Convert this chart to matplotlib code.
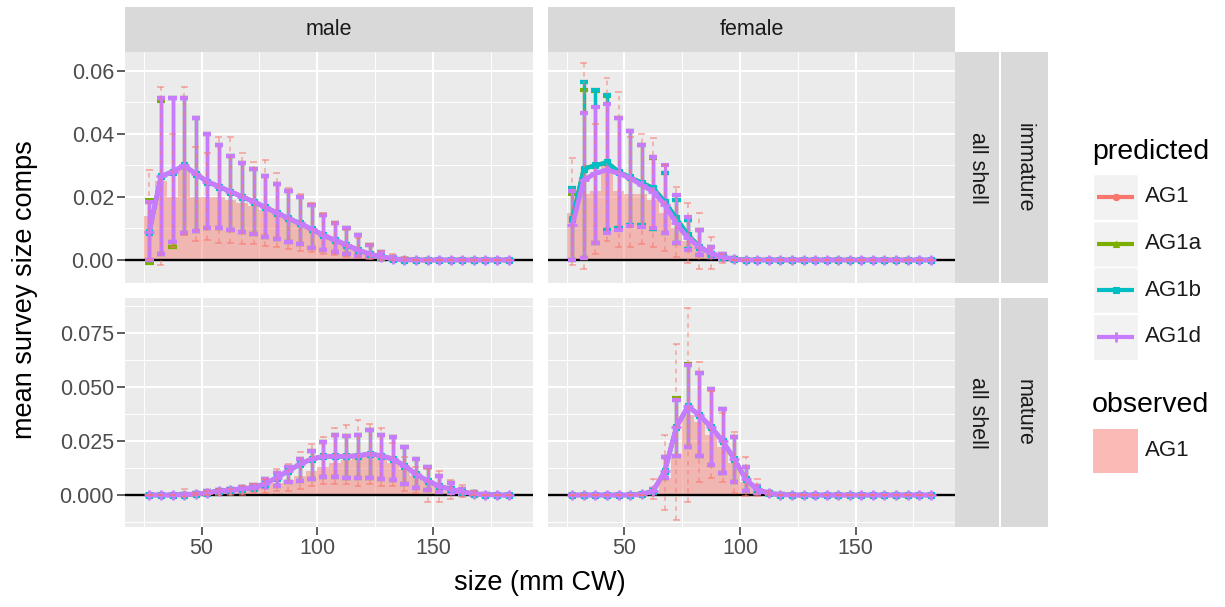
import numpy as np
import matplotlib
matplotlib.use('Agg')
import matplotlib.pyplot as plt
from matplotlib.patches import Rectangle

plt.rcParams['font.family'] = ['Liberation Sans', 'DejaVu Sans']

# size bins (mm CW)
sizes = [27.5, 32.5, 37.5, 42.5, 47.5, 52.5, 57.5, 62.5,
         67.5, 72.5, 77.5, 82.5, 87.5, 92.5, 97.5, 102.5,
         107.5, 112.5, 117.5, 122.5, 127.5, 132.5, 137.5, 142.5,
         147.5, 152.5, 157.5, 162.5, 167.5, 172.5, 177.5, 182.5]

models = ['AG1', 'AG1a', 'AG1b', 'AG1d']
sexes = ['male', 'female']
maturity = ['immature', 'mature']

# ---- male, immature ----
mi_obs = [0.014, 0.025, 0.020, 0.029, 0.020, 0.020, 0.020, 0.019,
          0.018, 0.017, 0.016, 0.015, 0.013, 0.012, 0.010, 0.008,
          0.0065, 0.005, 0.0035, 0.0025, 0.0015, 0.001, 0.0005, 0,
          0, 0, 0, 0, 0, 0, 0, 0]
mi_obs_lo = [0.0, -0.0015, 0.004, 0.008, 0.006, 0.0063, 0.0055, 0.0055,
             0.005, 0.005, 0.0045, 0.004, 0.0035, 0.003, 0.0025, 0.002,
             0.0015, 0.001, 0.0005, 0.0003, 0, 0, 0, 0,
             0, 0, 0, 0, 0, 0, 0, 0]
mi_obs_hi = [0.0286, 0.055, 0.040, 0.0548, 0.036, 0.034, 0.039, 0.039,
             0.034, 0.031, 0.0317, 0.0277, 0.023, 0.021, 0.018, 0.015,
             0.012, 0.0095, 0.007, 0.005, 0.003, 0.002, 0.001, 0,
             0, 0, 0, 0, 0, 0, 0, 0]
mi_d = [0.009, 0.0265, 0.028, 0.030, 0.0273, 0.0249, 0.0233, 0.0217,
        0.0201, 0.0185, 0.0167, 0.015, 0.0132, 0.0116, 0.0098, 0.0079,
        0.0063, 0.0048, 0.0032, 0.0019, 0.001, 0.0004, 0.0001, 0,
        0, 0, 0, 0, 0, 0, 0, 0]
mi_d_lo = [0.0, 0.002, 0.0058, 0.0087, 0.0092, 0.010, 0.010, 0.0095,
           0.009, 0.0081, 0.0074, 0.0067, 0.0056, 0.005, 0.0039, 0.0032,
           0.0024, 0.0019, 0.0013, 0.0008, 0.0004, 0.0001, 0, 0,
           0, 0, 0, 0, 0, 0, 0, 0]
mi_d_hi = [0.0185, 0.0513, 0.0515, 0.0515, 0.045, 0.040, 0.0365, 0.033,
           0.0307, 0.029, 0.0265, 0.024, 0.022, 0.020, 0.0175, 0.0143,
           0.0116, 0.010, 0.0079, 0.0048, 0.0026, 0.001, 0.0003, 0,
           0, 0, 0, 0, 0, 0, 0, 0]
mi_a_lo = [-0.001, 0.002, 0.004, 0.0087, 0.0092, 0.010, 0.010, 0.0095,
           0.009, 0.0081, 0.0074, 0.0067, 0.0056, 0.005, 0.0039, 0.0032,
           0.0024, 0.0019, 0.0013, 0.0008, 0.0004, 0.0001, 0, 0,
           0, 0, 0, 0, 0, 0, 0, 0]
mi_a_hi = [0.019, 0.0505, 0.0515, 0.0515, 0.045, 0.040, 0.0365, 0.033,
           0.0307, 0.029, 0.0265, 0.024, 0.022, 0.020, 0.0175, 0.0143,
           0.0116, 0.010, 0.0079, 0.0048, 0.0026, 0.001, 0.0003, 0,
           0, 0, 0, 0, 0, 0, 0, 0]

# ---- female, immature ----
fi_obs = [0.015, 0.021, 0.022, 0.030, 0.022, 0.021, 0.021, 0.019,
          0.015, 0.010, 0.006, 0.004, 0.002, 0.0005, 0, 0,
          0, 0, 0, 0, 0, 0, 0, 0,
          0, 0, 0, 0, 0, 0, 0, 0]
fi_obs_lo = [-0.0016, -0.003, 0.002, 0.006, 0.004, 0.004, 0.005, 0.004,
             0.003, 0.001, -0.001, -0.003, -0.003, -0.001, 0, 0,
             0, 0, 0, 0, 0, 0, 0, 0,
             0, 0, 0, 0, 0, 0, 0, 0]
fi_obs_hi = [0.0323, 0.0624, 0.043, 0.0577, 0.0534, 0.039, 0.040, 0.0386,
             0.030, 0.0233, 0.018, 0.0148, 0.0074, 0.002, 0, 0,
             0, 0, 0, 0, 0, 0, 0, 0,
             0, 0, 0, 0, 0, 0, 0, 0]
fi_d = [0.011, 0.0254, 0.0275, 0.0286, 0.0275, 0.026, 0.0238, 0.0217,
        0.0175, 0.0116, 0.0069, 0.0042, 0.0021, 0.001, 0.0002, 0,
        0, 0, 0, 0, 0, 0, 0, 0,
        0, 0, 0, 0, 0, 0, 0, 0]
fi_d_lo = [0.0, 0.0005, 0.0055, 0.0085, 0.0095, 0.0108, 0.0106, 0.010,
           0.0085, 0.0053, 0.0032, 0.0016, 0.0008, 0.0002, 0, 0,
           0, 0, 0, 0, 0, 0, 0, 0,
           0, 0, 0, 0, 0, 0, 0, 0]
fi_d_hi = [0.022, 0.0466, 0.0487, 0.0495, 0.0452, 0.041, 0.0365, 0.0328,
           0.030, 0.0206, 0.0138, 0.0095, 0.0042, 0.002, 0.0005, 0,
           0, 0, 0, 0, 0, 0, 0, 0,
           0, 0, 0, 0, 0, 0, 0, 0]
fi_b = [0.013, 0.029, 0.030, 0.031, 0.028, 0.0262, 0.0245, 0.0228,
        0.0185, 0.0132, 0.008, 0.0042, 0.002, 0.001, 0.0002, 0,
        0, 0, 0, 0, 0, 0, 0, 0,
        0, 0, 0, 0, 0, 0, 0, 0]
fi_b_lo = [0.0, 0.0005, 0.0055, 0.0095, 0.010, 0.011, 0.011, 0.0098,
           0.0085, 0.0055, 0.0035, 0.0016, 0.0008, 0.0002, 0, 0,
           0, 0, 0, 0, 0, 0, 0, 0,
           0, 0, 0, 0, 0, 0, 0, 0]
fi_b_hi = [0.0229, 0.0566, 0.054, 0.0524, 0.0452, 0.041, 0.0365, 0.0328,
           0.0275, 0.019, 0.0127, 0.0095, 0.0042, 0.002, 0.0005, 0,
           0, 0, 0, 0, 0, 0, 0, 0,
           0, 0, 0, 0, 0, 0, 0, 0]
fi_a_hi = [0.021, 0.054, 0.0535, 0.052, 0.045, 0.041, 0.0365, 0.0325,
           0.0275, 0.019, 0.0127, 0.0095, 0.0042, 0.002, 0.0005, 0,
           0, 0, 0, 0, 0, 0, 0, 0,
           0, 0, 0, 0, 0, 0, 0, 0]

# ---- male, mature ----
mm_obs = [0, 0, 0, 0, 0, 0.0005, 0.0015, 0.0015,
          0.002, 0.003, 0.004, 0.0055, 0.007, 0.009, 0.011, 0.013,
          0.015, 0.016, 0.017, 0.018, 0.017, 0.015, 0.012, 0.009,
          0.006, 0.004, 0.002, 0.001, 0.0005, 0, 0, 0]
mm_obs_lo = [0, 0, 0, -0.001, 0, 0, 0, 0,
             0, 0.001, 0.001, 0.002, 0.002, 0.003, 0.004, 0.005,
             0.005, 0.005, 0.004, 0.005, 0.004, 0.004, 0.002, 0.001,
             -0.003, -0.003, -0.002, -0.001, 0, 0, 0, 0]
mm_obs_hi = [0, 0, 0, 0.003, 0.001, 0.002, 0.003, 0.003,
             0.004, 0.005, 0.0073, 0.012, 0.0143, 0.0198, 0.0237, 0.027,
             0.031, 0.0326, 0.0346, 0.0327, 0.031, 0.024, 0.0175, 0.013,
             0.012, 0.0112, 0.007, 0.0045, 0.002, 0, 0, 0]
mm_d = [0, 0, 0, 0.0002, 0.0005, 0.001, 0.0019, 0.0023,
        0.003, 0.0034, 0.0053, 0.0081, 0.0112, 0.0143, 0.0167, 0.0179,
        0.0179, 0.0179, 0.0182, 0.019, 0.0182, 0.0167, 0.0136, 0.0097,
        0.0065, 0.0042, 0.0026, 0.0014, 0.0006, 0.0002, 0, 0]
mm_d_lo = [0, 0, 0, 0.0001, 0.0003, 0.0006, 0.001, 0.0015,
           0.002, 0.0028, 0.0035, 0.0042, 0.0058, 0.0065, 0.0076, 0.0084,
           0.0084, 0.0081, 0.008, 0.008, 0.0073, 0.0068, 0.005, 0.0034,
           0.0023, 0.0016, 0.001, 0.0005, 0.0002, 0, 0, 0]
mm_d_hi = [0, 0, 0, 0.0004, 0.001, 0.0017, 0.0025, 0.003,
           0.0038, 0.0045, 0.0073, 0.010, 0.0128, 0.0165, 0.0205, 0.0245,
           0.028, 0.0273, 0.028, 0.030, 0.028, 0.0268, 0.0221, 0.0167,
           0.0128, 0.0089, 0.0055, 0.003, 0.0014, 0.0005, 0, 0]

# ---- female, mature ----
fm_obs = [0, 0, 0, 0, 0, 0, 0, 0.002,
          0.008, 0.019, 0.037, 0.034, 0.028, 0.022, 0.015, 0.006,
          0.002, 0.0005, 0, 0, 0, 0, 0, 0,
          0, 0, 0, 0, 0, 0, 0, 0]
fm_obs_lo = [0, 0, 0, 0, 0, 0, 0, -0.002,
             -0.0067, -0.0114, -0.003, 0.006, 0.008, 0.006, 0.001, -0.0005,
             -0.0005, 0, 0, 0, 0, 0, 0, 0,
             0, 0, 0, 0, 0, 0, 0, 0]
fm_obs_hi = [0, 0, 0, 0, 0, 0, 0, 0.0073,
             0.028, 0.070, 0.0868, 0.0618, 0.048, 0.038, 0.029, 0.0174,
             0.0073, 0.002, 0, 0, 0, 0, 0, 0,
             0, 0, 0, 0, 0, 0, 0, 0]
fm_d = [0, 0, 0, 0, 0, 0, 0.0003, 0.0019,
        0.011, 0.0315, 0.041, 0.037, 0.0315, 0.025, 0.0167, 0.0073,
        0.0026, 0.0008, 0.0002, 0, 0, 0, 0, 0,
        0, 0, 0, 0, 0, 0, 0, 0]
fm_d_lo = [0, 0, 0, 0, 0, 0, 0.0001, 0.001,
           0.0081, 0.0182, 0.0224, 0.0179, 0.0139, 0.0101, 0.0058, 0.0019,
           0.0008, 0.0003, 0, 0, 0, 0, 0, 0,
           0, 0, 0, 0, 0, 0, 0, 0]
fm_d_hi = [0, 0, 0, 0, 0, 0, 0.0005, 0.003,
           0.0174, 0.0439, 0.0603, 0.0564, 0.049, 0.040, 0.0268, 0.0132,
           0.004, 0.0012, 0.0003, 0, 0, 0, 0, 0,
           0, 0, 0, 0, 0, 0, 0, 0]
fm_a_hi = [0, 0, 0, 0, 0, 0, 0.0005, 0.003,
           0.0174, 0.0447, 0.0607, 0.0564, 0.049, 0.040, 0.0268, 0.0132,
           0.004, 0.0012, 0.0003, 0, 0, 0, 0, 0,
           0, 0, 0, 0, 0, 0, 0, 0]

top_ticks = [0.0, 0.02, 0.04, 0.06]
top_labels = ['0.00', '0.02', '0.04', '0.06']
bot_ticks = [0.0, 0.025, 0.05, 0.075]
bot_labels = ['0.000', '0.025', '0.050', '0.075']
x_ticks = [50, 100, 150]

COLORS = {'AG1': '#F8766D', 'AG1a': '#7CAE00', 'AG1b': '#00BFC4', 'AG1d': '#C77CFF'}
MARKERS = {'AG1': 'o', 'AG1a': '^', 'AG1b': 's', 'AG1d': '+'}
MSIZE = {'AG1': 4.5, 'AG1a': 4.5, 'AG1b': 4.2, 'AG1d': 7.5}
OBS = '#F8766D'
TXT = '#1A1A1A'

W, H = 1225, 607
fig = plt.figure(figsize=(W / 100, H / 100), dpi=100)


def box(x0, y0, x1, y1):
    return [x0 / W, 1 - y1 / H, (x1 - x0) / W, (y1 - y0) / H]


x = np.array(sizes)


def draw_panel(ax, obs, obs_lo, obs_hi, preds, ylim, ticks, labels, minors,
               show_x, show_y):
    ax.set_facecolor('#EBEBEB')
    ax.set_xlim(17, 193)
    ax.set_ylim(*ylim)
    ax.set_xticks(x_ticks)
    ax.set_xticks([25, 75, 125, 175], minor=True)
    ax.set_yticks(ticks)
    ax.set_yticklabels(labels)
    ax.set_yticks(minors, minor=True)
    ax.grid(which='major', color='white', lw=1.5)
    ax.grid(which='minor', color='white', lw=0.7)
    ax.set_axisbelow(True)
    for s in ax.spines.values():
        s.set_visible(False)
    ax.tick_params(which='major', length=5.5, width=1.1, color='#333333',
                   labelcolor='#4D4D4D', labelsize=15.5, pad=2.5)
    ax.tick_params(which='minor', length=0)
    if not show_x:
        ax.tick_params(bottom=False, labelbottom=False)
    if not show_y:
        ax.tick_params(left=False, labelleft=False)

    # observed bars
    ax.bar(x, obs, width=5, color=OBS, alpha=0.45, lw=0, zorder=2)
    ax.axhline(0, color='black', lw=1.7, zorder=3)

    # predicted lines with error bars
    for name, m, lo, hi in preds:
        c = COLORS[name]
        ax.vlines(x, lo, hi, colors=c, lw=2.3, zorder=4)
        ax.hlines(lo, x - 1.8, x + 1.8, colors=c, lw=3, zorder=4)
        ax.hlines(hi, x - 1.8, x + 1.8, colors=c, lw=3, zorder=4)
        ax.plot(x, m, color=c, lw=3.5 if name == 'AG1d' else 3,
                marker=MARKERS[name], ms=MSIZE[name],
                mew=2 if name == 'AG1d' else 0.8, zorder=5)

    # observed error bars
    ax.vlines(x, obs_lo, obs_hi, colors=OBS, lw=1.1, linestyles=(0, (3, 3)),
              alpha=0.6, zorder=6)
    ax.hlines(obs_lo, x - 1.5, x + 1.5, colors=OBS, lw=1.1, alpha=0.65, zorder=6)
    ax.hlines(obs_hi, x - 1.5, x + 1.5, colors=OBS, lw=1.1, alpha=0.65, zorder=6)


top_ylim = (-0.0073, 0.066)
bot_ylim = (-0.0148, 0.0912)
top_minor = [0.01, 0.03, 0.05]
bot_minor = [-0.0125, 0.0125, 0.0375, 0.0625, 0.0875]

panels = [
    # rect, obs, lo, hi, preds, ylim, ticks, labels, minors, show_x, show_y
    ((125, 52, 533, 283), mi_obs, mi_obs_lo, mi_obs_hi,
     [('AG1', mi_d, mi_d_lo, mi_d_hi), ('AG1a', mi_d, mi_a_lo, mi_a_hi),
      ('AG1b', mi_d, mi_d_lo, mi_d_hi), ('AG1d', mi_d, mi_d_lo, mi_d_hi)],
     top_ylim, top_ticks, top_labels, top_minor, False, True),
    ((548, 52, 955, 283), fi_obs, fi_obs_lo, fi_obs_hi,
     [('AG1', fi_b, fi_b_lo, fi_b_hi), ('AG1a', fi_b, fi_b_lo, fi_a_hi),
      ('AG1b', fi_b, fi_b_lo, fi_b_hi), ('AG1d', fi_d, fi_d_lo, fi_d_hi)],
     top_ylim, top_ticks, top_labels, top_minor, False, False),
    ((125, 298, 533, 527), mm_obs, mm_obs_lo, mm_obs_hi,
     [('AG1', mm_d, mm_d_lo, mm_d_hi), ('AG1a', mm_d, mm_d_lo, mm_d_hi),
      ('AG1b', mm_d, mm_d_lo, mm_d_hi), ('AG1d', mm_d, mm_d_lo, mm_d_hi)],
     bot_ylim, bot_ticks, bot_labels, bot_minor, True, True),
    ((548, 298, 955, 527), fm_obs, fm_obs_lo, fm_obs_hi,
     [('AG1', fm_d, fm_d_lo, fm_d_hi), ('AG1a', fm_d, fm_d_lo, fm_a_hi),
      ('AG1b', fm_d, fm_d_lo, fm_d_hi), ('AG1d', fm_d, fm_d_lo, fm_d_hi)],
     bot_ylim, bot_ticks, bot_labels, bot_minor, True, False),
]

for rect, obs, lo, hi, preds, ylim, ticks, labels, minors, sx, sy in panels:
    ax = fig.add_axes(box(*rect))
    draw_panel(ax, obs, lo, hi, preds, ylim, ticks, labels, minors, sx, sy)


def strip(rect, label, rotation=0):
    sa = fig.add_axes(box(*rect))
    sa.set_facecolor('#D9D9D9')
    sa.set_xticks([])
    sa.set_yticks([])
    for s in sa.spines.values():
        s.set_visible(False)
    sa.text(0.5, 0.5, label, transform=sa.transAxes, ha='center', va='center',
            rotation=rotation, fontsize=15.5, color=TXT)


# column strips
strip((125, 7, 533, 52), sexes[0])
strip((548, 7, 955, 52), sexes[1])
# row strips
strip((955, 52, 999, 283), 'all shell', -90)
strip((1001, 52, 1048, 283), maturity[0], -90)
strip((955, 298, 999, 527), 'all shell', -90)
strip((1001, 298, 1048, 527), maturity[1], -90)

fig.text(540 / W, 1 - 583 / H, 'size (mm CW)', ha='center', va='center',
         fontsize=19.5, color='black')
fig.text(25 / W, 1 - 290 / H, 'mean survey size comps', ha='center',
         va='center', rotation=90, fontsize=19.5, color='black')

# legend (pixel coordinate axes)
lg = fig.add_axes([0, 0, 1, 1], facecolor='none')
lg.set_xlim(0, W)
lg.set_ylim(H, 0)
lg.axis('off')
lg.text(1092, 152, 'predicted', ha='left', va='center', fontsize=20.5, color='black')
key_y = [197, 243.5, 290, 336.5]
for name, ky in zip(models, key_y):
    lg.add_patch(Rectangle((1093, ky - 23), 45, 46, facecolor='#F2F2F2',
                           edgecolor='white', lw=1))
    lg.plot([1097, 1134], [ky, ky], color=COLORS[name], lw=3, solid_capstyle='butt')
    lg.plot([1115.5], [ky], color=COLORS[name], marker=MARKERS[name],
            ms=MSIZE[name], mew=2 if name == 'AG1d' else 0.8)
    lg.text(1145, ky, name, ha='left', va='center', fontsize=16, color=TXT)

lg.text(1092, 405, 'observed', ha='left', va='center', fontsize=20.5, color='black')
lg.add_patch(Rectangle((1093, 429), 45, 44, facecolor=OBS, alpha=0.5, lw=0))
lg.text(1145, 451, 'AG1', ha='left', va='center', fontsize=16, color=TXT)

fig.savefig('out.png', dpi=100)
